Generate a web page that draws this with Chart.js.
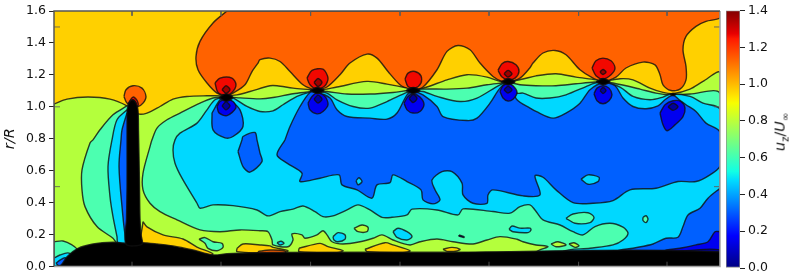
<!DOCTYPE html>
<html lang="en">

<head>
    <meta charset="utf-8">
    <title>u_z/U_inf contours</title>
    <style>
        html, body { margin: 0; background: #fff; overflow: hidden; }
        #wrap { position: relative; width: 793px; height: 280px; }
        canvas { position: absolute; top: 0; filter: blur(0.45px); }
        #main { left: 0; }
        #bar { left: 700px; }
        #barLabel {
            position: absolute; left: 781px; top: 132px;
            transform: translate(-50%, -50%) rotate(-90deg);
            font: 14.5px "DejaVu Sans"; color: #111; white-space: nowrap; filter: blur(0.3px);
        }
        #barLabel sub { font-size: 10px; }
    </style>
    <script src="https://cdn.jsdelivr.net/npm/chart.js@4/dist/chart.umd.js"></script>
</head>

<body>
    <div id="wrap">
        <canvas id="main" width="793" height="280"></canvas>
        <canvas id="bar" width="93" height="280"></canvas>
        <div id="barLabel"><i>u</i><sub>z</sub>/<i>U</i><sub>∞</sub></div>
    </div>

    <script>
        // contours, points are [x, r/R]
        // x has no labelled axis in the original, it runs 0..666 across the plot
        const plotBase = [[0, 0], [666, 0], [666, 1.6], [0, 1.6]];
        const orangeTop = [[173, 1.6], [159, 1.525], [146, 1.41], [142, 1.315], [144, 1.232], [153, 1.149], [163, 1.086], [172, 1.069], [179, 1.086], [191, 1.138], [198, 1.221], [204, 1.274], [206, 1.295], [216, 1.305], [226, 1.284], [236, 1.221], [249, 1.138], [258, 1.111], [263, 1.107], [273, 1.124], [286, 1.201], [296, 1.274], [313, 1.33], [323, 1.305], [334, 1.221], [346, 1.138], [354, 1.111], [359, 1.104], [369, 1.124], [383, 1.232], [393, 1.347], [404, 1.384], [416, 1.357], [426, 1.274], [439, 1.19], [448, 1.159], [454, 1.154], [466, 1.18], [476, 1.245], [479, 1.274], [489, 1.337], [501, 1.353], [512, 1.326], [526, 1.232], [539, 1.18], [549, 1.159], [562, 1.186], [572, 1.243], [589, 1.28], [601, 1.263], [606, 1.201], [609, 1.138], [617, 1.102], [626, 1.111], [632, 1.169], [632, 1.253], [629, 1.357], [632, 1.441], [642, 1.504], [652, 1.535], [666, 1.556], [666, 1.6]];
        const limeBelow = [[0, 1.017], [13, 1.048], [34, 1.061], [56, 1.048], [73, 1.006], [84, 0.956], [93, 0.961], [106, 1.002], [119, 1.048], [133, 1.065], [153, 1.069], [172, 1.069], [183, 1.075], [196, 1.096], [216, 1.132], [223, 1.132], [239, 1.117], [256, 1.107], [263, 1.102], [283, 1.124], [313, 1.159], [333, 1.142], [353, 1.117], [359, 1.102], [373, 1.124], [393, 1.169], [413, 1.201], [433, 1.186], [446, 1.159], [454, 1.155], [469, 1.174], [482, 1.194], [502, 1.207], [522, 1.186], [542, 1.169], [549, 1.159], [566, 1.176], [579, 1.169], [596, 1.117], [609, 1.09], [619, 1.082], [636, 1.111], [649, 1.159], [666, 1.211], [666, 0], [0, 0]];
        const mintMain = [[172, 1.063], [186, 1.056], [206, 1.05], [219, 1.058], [239, 1.082], [256, 1.094], [263, 1.1], [273, 1.096], [293, 1.08], [316, 1.08], [339, 1.09], [354, 1.102], [369, 1.111], [393, 1.111], [413, 1.117], [433, 1.138], [448, 1.149], [454, 1.154], [466, 1.138], [482, 1.132], [502, 1.132], [522, 1.144], [541, 1.155], [549, 1.157], [559, 1.149], [586, 1.111], [602, 1.086], [616, 1.075], [636, 1.08], [666, 1.08], [666, 0], [482, 0], [482, 0.09], [494, 0.124], [482, 0.135], [469, 0.155], [463, 0.171], [446, 0.187], [433, 0.166], [419, 0.141], [399, 0.155], [383, 0.172], [366, 0.155], [356, 0.135], [339, 0.166], [328, 0.198], [319, 0.177], [306, 0.155], [289, 0.141], [278, 0.155], [273, 0.198], [269, 0.224], [263, 0.198], [251, 0.177], [248, 0.198], [238, 0.204], [239, 0.166], [234, 0.124], [219, 0.135], [218, 0.166], [214, 0.218], [206, 0.224], [186, 0.229], [166, 0.218], [146, 0.229], [123, 0.292], [106, 0.344], [96, 0.396], [89, 0.48], [89, 0.584], [96, 0.751], [98, 0.793], [103, 0.867], [113, 0.919], [126, 0.961], [146, 1.023], [159, 1.055]];
        const mintLeft = [[73, 1.006], [59, 0.95], [46, 0.856], [39, 0.793], [36, 0.774], [28, 0.605], [28, 0.48], [31, 0.375], [43, 0.25], [59, 0.177], [63, 0.147], [76, 0.147], [76, 1.006]];
        const mintCorner = [[0, 0.155], [9, 0.16], [18, 0.135], [23, 0.103], [14, 0.03], [0, 0]];
        const cyanMain = [[172, 1.063], [179, 1.056], [193, 1.002], [206, 0.971], [219, 0.975], [229, 1.013], [243, 1.065], [256, 1.092], [263, 1.094], [273, 1.086], [283, 1.044], [299, 1.002], [316, 0.992], [333, 1.033], [353, 1.09], [359, 1.097], [369, 1.096], [383, 1.065], [406, 1.033], [423, 1.055], [446, 1.138], [454, 1.151], [463, 1.086], [469, 1.086], [482, 1.055], [496, 1.055], [512, 1.075], [532, 1.127], [541, 1.149], [549, 1.154], [566, 1.124], [579, 1.065], [596, 1.044], [609, 1.061], [617, 1.08], [636, 1.065], [649, 1.023], [666, 0.981], [666, 0], [509, 0], [509, 0.093], [536, 0.114], [559, 0.135], [569, 0.166], [574, 0.208], [569, 0.246], [556, 0.271], [541, 0.25], [529, 0.198], [519, 0.218], [506, 0.26], [489, 0.292], [481, 0.354], [476, 0.386], [466, 0.375], [456, 0.334], [439, 0.344], [409, 0.361], [404, 0.323], [383, 0.354], [358, 0.359], [353, 0.323], [338, 0.308], [328, 0.308], [316, 0.354], [304, 0.386], [293, 0.354], [279, 0.317], [269, 0.312], [261, 0.344], [249, 0.379], [239, 0.359], [226, 0.344], [214, 0.317], [203, 0.354], [179, 0.381], [159, 0.386], [146, 0.365], [143, 0.396], [128, 0.553], [121, 0.647], [119, 0.73], [121, 0.793], [126, 0.835], [143, 0.898], [153, 0.981], [161, 1.044]];
        const cyanLeft = [[73, 0.981], [63, 0.919], [58, 0.793], [54, 0.626], [56, 0.438], [59, 0.312], [63, 0.187], [64, 0.149], [76, 0.147], [76, 0.981]];
        const cyanCorner = [[0, 0.053], [6, 0.072], [14, 0.085], [20, 0.06], [10, 0], [0, 0]];
        const blueMain = [[231, 0.793], [236, 0.877], [246, 1.002], [256, 1.09], [263, 1.091], [276, 1.055], [283, 0.981], [293, 0.939], [316, 0.929], [333, 0.923], [343, 0.961], [353, 1.075], [359, 1.094], [369, 1.075], [383, 1.002], [389, 0.939], [413, 0.914], [423, 0.929], [436, 1.023], [446, 1.117], [454, 1.147], [463, 1.044], [476, 0.992], [482, 0.971], [499, 0.929], [512, 0.961], [526, 1.023], [536, 1.107], [549, 1.151], [561, 1.132], [569, 1.055], [579, 1.002], [592, 0.988], [604, 1.006], [611, 1.044], [619, 1.072], [626, 1.04], [632, 1.013], [642, 0.971], [652, 0.898], [666, 0.841], [666, 0.63], [656, 0.574], [642, 0.532], [624, 0.532], [602, 0.49], [576, 0.48], [559, 0.413], [539, 0.396], [519, 0.4], [502, 0.48], [489, 0.559], [481, 0.567], [486, 0.448], [469, 0.442], [439, 0.48], [434, 0.448], [433, 0.396], [419, 0.396], [409, 0.448], [408, 0.522], [398, 0.594], [388, 0.594], [378, 0.542], [381, 0.48], [386, 0.417], [379, 0.392], [369, 0.417], [367, 0.48], [353, 0.532], [339, 0.574], [336, 0.525], [323, 0.511], [318, 0.428], [303, 0.48], [288, 0.511], [285, 0.574], [266, 0.553], [246, 0.532], [248, 0.584], [233, 0.647], [223, 0.699]];
        const blueLeft = [[73, 0.962], [68, 0.856], [67, 0.793], [65, 0.626], [68, 0.375], [72, 0.166], [76, 0.147], [76, 0.962]];
        const blueCorner = [[2, 0.02], [6, 0.04], [11, 0.055], [14, 0.03], [6, 0]];
        const blueLowerRight = [[666, 0.49], [654, 0.428], [646, 0.365], [634, 0.323], [629, 0.25], [624, 0.183], [612, 0.177], [599, 0.141], [579, 0.114], [562, 0.091], [562, 0], [666, 0]];
        const darkLowerRight = [[666, 0.218], [661, 0.218], [654, 0.155], [642, 0.135], [626, 0.114], [609, 0.093], [609, 0], [666, 0]];
        const navyLowerRight = [[616, 0.09], [666, 0.103], [666, 0], [616, 0]];
        const blueBlob = [[184, 0.72], [188, 0.793], [189, 0.814], [201, 0.839], [203, 0.793], [206, 0.71], [208, 0.657], [196, 0.591], [189, 0.626]];
        const goldWedge = [[89, 0.281], [93, 0.248], [109, 0.198], [129, 0.172], [143, 0.122], [159, 0.078], [146, 0.053], [106, 0.072], [87, 0.103]];
        const goldMound1 = [[183, 0.114], [189, 0.141], [206, 0.135], [216, 0.129], [219, 0.12], [234, 0.099], [226, 0.083], [183, 0.093]];
        const orangeSliver = [[204, 0.093], [216, 0.103], [231, 0.097], [231, 0.078], [204, 0.078]];
        const goldMound2 = [[245, 0.114], [266, 0.145], [274, 0.124], [289, 0.099], [283, 0.087], [245, 0.093]];
        const goldMound3 = [[311, 0.108], [331, 0.149], [339, 0.135], [356, 0.099], [349, 0.087], [313, 0.093]];
        const goldMound4 = [[389, 0.108], [398, 0.12], [406, 0.108], [403, 0.097], [393, 0.095]];
        const limeIsle1 = [[300, 0.24], [308, 0.26], [314, 0.246], [313, 0.218], [304, 0.218]];
        const limeIsle2 = [[497, 0.141], [504, 0.155], [512, 0.135], [502, 0.124]];
        const limeIsle3 = [[515, 0.141], [520, 0.149], [525, 0.13], [521, 0.12]];
        const mintIsle1 = [[145, 0.171], [151, 0.181], [159, 0.155], [168, 0.145], [169, 0.12], [163, 0.099], [154, 0.114], [151, 0.145]];
        const mintIsle2 = [[512, 0.302], [519, 0.329], [534, 0.337], [540, 0.308], [536, 0.275], [521, 0.271]];
        const mintIsle3 = [[589, 0.308], [592, 0.318], [594, 0.297], [592, 0.275], [589, 0.288]];
        const cyanIsle1 = [[279, 0.187], [284, 0.212], [291, 0.198], [291, 0.171], [284, 0.155], [280, 0.166]];
        const cyanIsle2 = [[339, 0.218], [344, 0.24], [353, 0.218], [358, 0.187], [353, 0.166], [343, 0.183]];
        const cyanIsle3 = [[223, 0.149], [227, 0.158], [230, 0.145], [226, 0.135]];
        const cyanIsle4 = [[455, 0.233], [458, 0.254], [466, 0.24], [476, 0.24], [477, 0.229], [474, 0.212], [459, 0.218]];
        const cyanIsle5 = [[302, 0.537], [305, 0.556], [308, 0.531], [304, 0.512]];
        const cyanIsle6 = [[527, 0.547], [534, 0.574], [545, 0.559], [544, 0.532], [534, 0.515]];
        const darkSpeck = [[405, 0.197], [410, 0.187], [410, 0.182], [405, 0.19]];
        // the bubble on the tall rod
        const rodOrange = [[70, 1.065], [72, 1.107], [79, 1.132], [88, 1.117], [92, 1.065], [89, 1.023], [84, 1.002], [76, 1.006], [72, 1.033]];
        const rodRed = [[74, 1.02], [79, 1.061], [83, 1.04], [84, 1.006]];
        const rodDarkRed = [[76, 1.02], [79, 1.045], [82, 1.02]];
        // lobes around the six blades
        const lobe1Blue = [[158, 0.961], [166, 1.044], [172, 1.057], [176, 1.044], [186, 0.981], [189, 0.877], [179, 0.814], [171, 0.806], [159, 0.856]];
        const lobe1Dark = [[163, 1.002], [166, 1.033], [172, 1.047], [179, 1.033], [182, 0.994], [173, 0.945], [165, 0.962]];
        const lobe1Navy = [[168, 1.006], [172, 1.031], [176, 1.006], [172, 0.981]];
        const lobe1Red = [[161, 1.149], [166, 1.18], [178, 1.18], [182, 1.138], [178, 1.09], [172, 1.075], [164, 1.09]];
        const lobe1DarkRed = [[168, 1.107], [172, 1.132], [176, 1.107], [172, 1.085]];
        const lobe2Red = [[253, 1.18], [258, 1.228], [269, 1.236], [274, 1.18], [271, 1.132], [263, 1.111], [256, 1.138]];
        const lobe2DarkRed = [[260, 1.152], [264, 1.177], [268, 1.152], [264, 1.127]];
        const lobe2Dark = [[254, 1.023], [258, 1.065], [263, 1.086], [271, 1.065], [274, 1.013], [269, 0.971], [263, 0.956], [256, 0.981]];
        const lobe2Navy = [[260, 1.048], [264, 1.073], [268, 1.048], [264, 1.023]];
        const lobe3Red = [[351, 1.174], [354, 1.211], [361, 1.221], [367, 1.194], [367, 1.149], [361, 1.117], [354, 1.127]];
        const lobe3Dark = [[350, 1.023], [354, 1.065], [359, 1.082], [366, 1.061], [370, 1.013], [366, 0.971], [359, 0.961], [353, 0.981]];
        const lobe3Navy = [[355, 1.052], [359, 1.077], [363, 1.052], [359, 1.027]];
        const lobe4Red = [[444, 1.228], [448, 1.27], [454, 1.284], [462, 1.263], [465, 1.221], [461, 1.18], [454, 1.169], [448, 1.186]];
        const lobe4DarkRed = [[450, 1.207], [454, 1.228], [458, 1.207], [454, 1.186]];
        const lobe4Dark = [[446, 1.096], [449, 1.132], [454, 1.144], [459, 1.132], [463, 1.09], [459, 1.048], [454, 1.036], [449, 1.055]];
        const lobe4Navy = [[450, 1.107], [454, 1.128], [458, 1.107], [454, 1.086]];
        const lobe5Red = [[538, 1.243], [542, 1.288], [549, 1.305], [557, 1.288], [561, 1.243], [557, 1.201], [549, 1.174], [542, 1.194]];
        const lobe5DarkRed = [[546, 1.218], [549, 1.234], [552, 1.218], [549, 1.202]];
        const lobe5Dark = [[540, 1.082], [543, 1.117], [549, 1.132], [555, 1.117], [558, 1.075], [555, 1.038], [549, 1.019], [543, 1.038]];
        const lobe5Navy = [[546, 1.102], [549, 1.121], [552, 1.102], [549, 1.083]];
        const lobe6Dark = [[606, 0.961], [611, 1.013], [619, 1.038], [627, 1.033], [631, 0.992], [629, 0.939], [621, 0.887], [613, 0.85], [609, 0.887]];
        const lobe6Navy = [[614, 1], [619, 1.022], [624, 1], [619, 0.978]];
        // black solid parts
        const hubTip1 = [[165, 1.058], [172, 1.082], [179, 1.058], [172, 1.034]];
        const hubTip2 = [[256, 1.102], [263, 1.122], [270, 1.102], [263, 1.082]];
        const hubTip3 = [[352, 1.102], [359, 1.122], [366, 1.102], [359, 1.082]];
        const hubTip4 = [[447, 1.157], [454, 1.177], [461, 1.157], [454, 1.137]];
        const hubTip5 = [[542, 1.157], [549, 1.177], [556, 1.157], [549, 1.137]];
        const hubTip6 = [[616, 1.078], [619, 1.086], [622, 1.078], [619, 1.07]];
        const ground = [[0, 0], [7, 0.009], [13, 0.061], [24, 0.114], [39, 0.141], [59, 0.152], [72, 0.146], [88, 0.149], [103, 0.141], [119, 0.129], [139, 0.103], [159, 0.072], [173, 0.08], [216, 0.088], [400, 0.09], [666, 0.092], [666, 0]];
        const rod = [[73, 0.98], [75, 1.025], [78.5, 1.044], [82, 1.025], [84, 0.98], [84.5, 0.85], [85, 0.7], [85.5, 0.5], [86, 0.3], [87, 0.2], [88, 0.14], [72, 0.14], [72.5, 0.3], [73, 0.5], [73, 0.75]];

        const xTickSpots = [78, 167, 256.6, 346, 435, 524.6, 613];
        const rTickSpots = [0.5, 1, 1.5];
        const rTicks = [0, 0.2, 0.4, 0.6, 0.8, 1, 1.2, 1.4, 1.6];
        const barTicks = [0, 0.2, 0.4, 0.6, 0.8, 1, 1.2, 1.4];
        const barValue = [1.4];

        const gold = '#ffd000', orange = '#ff6200', lime = '#b4ff3c', mint = '#4cffb0', cyan = '#00d8ff';
        const blue = '#0060ff', dark = '#0000f0', navy = '#00009c', red = '#f20800', darkRed = '#9c0000';

        // painted in this order, later ones on top
        const layers = [
            [plotBase, gold], [orangeTop, orange], [limeBelow, lime], [rodOrange, orange], [rodRed, red], [rodDarkRed, darkRed],
            [mintMain, mint], [mintLeft, mint], [mintCorner, mint],
            [cyanMain, cyan], [cyanLeft, cyan], [cyanCorner, cyan], [blueBlob, blue],
            [blueMain, blue], [blueLeft, blue], [blueCorner, blue], [blueLowerRight, blue], [darkLowerRight, dark], [navyLowerRight, navy],
            [goldWedge, gold], [goldMound1, gold], [orangeSliver, orange], [goldMound2, gold], [goldMound3, gold], [goldMound4, gold],
            [limeIsle1, lime], [limeIsle2, lime], [limeIsle3, lime], [mintIsle1, mint], [mintIsle2, mint], [mintIsle3, mint],
            [cyanIsle1, cyan], [cyanIsle2, cyan], [cyanIsle3, cyan], [cyanIsle4, cyan], [cyanIsle5, cyan], [cyanIsle6, cyan], [darkSpeck, navy],
            [lobe1Blue, blue], [lobe1Dark, dark], [lobe1Navy, navy], [lobe1Red, red], [lobe1DarkRed, darkRed],
            [lobe2Red, red], [lobe2DarkRed, darkRed], [lobe2Dark, dark], [lobe2Navy, navy],
            [lobe3Red, red], [lobe3Dark, dark], [lobe3Navy, navy],
            [lobe4Red, red], [lobe4DarkRed, darkRed], [lobe4Dark, dark], [lobe4Navy, navy],
            [lobe5Red, red], [lobe5DarkRed, darkRed], [lobe5Dark, dark], [lobe5Navy, navy],
            [lobe6Dark, dark], [lobe6Navy, navy],
            [hubTip1, '#000'], [hubTip2, '#000'], [hubTip3, '#000'], [hubTip4, '#000'], [hubTip5, '#000'], [hubTip6, '#000'],
            [ground, '#000'], [rod, '#000']
        ];

        let datasets = layers.map(function (layer, i) {
            return {
                data: layer[0].concat([layer[0][0]]),
                showLine: true,
                fill: 'shape',
                backgroundColor: layer[1],
                borderColor: 'rgba(15,15,15,0.8)',
                borderWidth: i == 0 ? 0 : 1.4,
                pointRadius: 0,
                tension: 0.3,
                order: 1000 - i
            };
        });

        // little inward ticks, the original has them on all four sides
        let innerTicks = [];
        xTickSpots.forEach(function (x) {
            innerTicks.push([x, 0], [x, 0.03], [null, null], [x, 1.6], [x, 1.57], [null, null]);
        });
        rTickSpots.forEach(function (r) {
            innerTicks.push([0, r], [6, r], [null, null], [666, r], [660, r], [null, null]);
        });
        datasets.push({
            data: innerTicks, showLine: true, pointRadius: 0, borderColor: 'rgba(90,90,90,0.85)',
            borderWidth: 1, spanGaps: false, order: 2
        });
        // frame: top and left are darker than bottom and right in the original
        datasets.push({
            data: [[0, 0], [0, 1.6], [666, 1.6]], showLine: true, pointRadius: 0, borderColor: '#555',
            borderWidth: 1.5, clip: false, order: 1
        });
        datasets.push({
            data: [[0, 0], [666, 0], [666, 1.6]], showLine: true, pointRadius: 0, borderColor: '#a4a4a4',
            borderWidth: 1.5, clip: false, order: 1
        });

        new Chart(document.getElementById('main'), {
            type: 'scatter',
            data: { datasets: datasets },
            options: {
                responsive: false,
                animation: false,
                layout: { padding: { top: 11, right: 73, bottom: 13.5, left: 0 } },
                plugins: { legend: { display: false }, tooltip: { enabled: false } },
                scales: {
                    x: { type: 'linear', min: 0, max: 666, display: false },
                    y: {
                        type: 'linear', min: 0, max: 1.6,
                        afterFit: function (scale) { scale.width = 54; },
                        afterBuildTicks: function (scale) { scale.ticks = rTicks.map(function (v) { return { value: v }; }); },
                        border: { display: false },
                        grid: { drawOnChartArea: false, tickLength: 5, tickColor: '#222', tickWidth: 1 },
                        ticks: {
                            color: '#111', padding: 3, maxRotation: 0,
                            font: { family: 'DejaVu Sans', size: 12.5 },
                            callback: function (v) { return Number(v).toFixed(1); }
                        },
                        title: {
                            display: true, text: 'r/R', color: '#111', padding: { top: 2, bottom: 0 },
                            font: { family: 'DejaVu Sans', size: 14.5, style: 'italic' }
                        }
                    }
                }
            }
        });

        // colorbar, jet
        const jetStops = [[0, '#000080'], [0.11, '#0000f1'], [0.125, '#0000ff'], [0.34, '#00dbff'], [0.375, '#12ffe4'], [0.64, '#f7ff00'], [0.66, '#ffec00'], [0.89, '#ff1a00'], [0.91, '#e80000'], [1, '#800000']];

        new Chart(document.getElementById('bar'), {
            type: 'bar',
            data: {
                labels: [''],
                datasets: [{
                    data: barValue,
                    barPercentage: 1,
                    categoryPercentage: 1,
                    borderWidth: 1,
                    borderColor: '#8a8a8a',
                    borderSkipped: false,
                    backgroundColor: function (ctx) {
                        let area = ctx.chart.chartArea;
                        if (!area) return '#000';
                        let g = ctx.chart.ctx.createLinearGradient(0, area.bottom, 0, area.top);
                        jetStops.forEach(function (s) { g.addColorStop(s[0], s[1]); });
                        return g;
                    }
                }]
            },
            options: {
                responsive: false,
                animation: false,
                layout: { padding: { top: 9, right: 0, bottom: 12, left: 26 } },
                plugins: { legend: { display: false }, tooltip: { enabled: false } },
                scales: {
                    x: { display: false },
                    y: {
                        position: 'right', min: 0, max: 1.4,
                        afterFit: function (scale) { scale.width = 53; },
                        afterBuildTicks: function (scale) { scale.ticks = barTicks.map(function (v) { return { value: v }; }); },
                        border: { display: false },
                        grid: { drawOnChartArea: false, tickLength: 5, tickColor: '#222' },
                        ticks: {
                            color: '#111', padding: 3, maxRotation: 0,
                            font: { family: 'DejaVu Sans', size: 12.5 },
                            callback: function (v) { return Number(v).toFixed(1); }
                        }
                    }
                }
            }
        });
    </script>
</body>

</html>
